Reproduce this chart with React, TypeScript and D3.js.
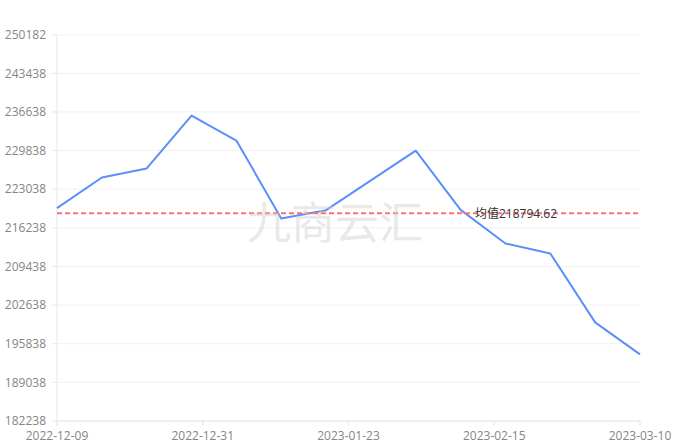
import React from 'react';
import * as d3 from 'd3';

const values: (number | null)[] = [
  219700, 225100, 226700, 236000, 231600, 217900, 219342, null,
  229817.06, 219395, 213487, 211728, 199594, 193967,
];
const tickLabels = ['2022-12-09', '2022-12-31', '2023-01-23', '2023-02-15', '2023-03-10'];
const yMin = 182238;
const yMax = 250182;
const yStep = 6800;
const watermark = '九商云汇';

const W = 677;
const H = 447;
const left = 57;
const right = 640;
const top = 35;
const bottom = 421;
const FONT = '"Open Sans", "Noto Sans CJK SC", sans-serif';

export default function App() {
  const x = d3.scaleLinear().domain([0, values.length - 1]).range([left, right]);
  const y = d3.scaleLinear().domain([yMin, yMax]).range([bottom, top]);

  const yTicks: number[] = [];
  for (let v = yMin; v < yMax; v += yStep) yTicks.push(v);
  yTicks.push(yMax);

  const pts = values
    .map((v, i) => (v == null ? null : [i, v] as [number, number]))
    .filter((p): p is [number, number] => p !== null);
  const line = d3
    .line<[number, number]>()
    .x((d) => x(d[0]))
    .y((d) => y(d[1]));

  const valid = values.filter((v): v is number => v != null);
  const mean = d3.mean(valid) as number;
  const nT = tickLabels.length - 1;

  return (
    <svg
      width={W}
      height={H}
      style={{ position: 'absolute', left: 0, top: 0, background: '#fff' }}
      fontFamily={FONT}
    >
      {/* grid */}
      {yTicks.map((t) => (
        <line key={'g' + t} x1={left} x2={right} y1={y(t)} y2={y(t)} stroke="#f1f1f1" strokeWidth={1} />
      ))}
      {/* y axis */}
      <line x1={left} x2={left} y1={top} y2={bottom + 5} stroke="#e6e6e6" strokeWidth={1} />
      {yTicks.map((t) => (
        <g key={'y' + t}>
          <line x1={left - 5} x2={left} y1={y(t)} y2={y(t)} stroke="#e6e6e6" />
          <text x={left - 11} y={y(t)} dy="0.35em" textAnchor="end" fontSize={12} fill="#858585">
            {t}
          </text>
        </g>
      ))}
      {/* x axis */}
      <line x1={left} x2={right} y1={bottom} y2={bottom} stroke="#e6e6e6" strokeWidth={1} />
      {tickLabels.map((lab, i) => {
        const xp = x((i * (values.length - 1)) / nT);
        return (
          <g key={lab}>
            <line x1={xp} x2={xp} y1={bottom} y2={bottom + 5} stroke="#e6e6e6" />
            <text x={xp} y={439.5} textAnchor="middle" fontSize={12} fill="#858585">
              {lab}
            </text>
          </g>
        );
      })}
      {/* series */}
      <path d={line(pts) || ''} fill="none" stroke="#5b8ff9" strokeWidth={2} strokeLinejoin="round" />
      {/* mean line */}
      <line
        x1={left}
        x2={right}
        y1={y(mean)}
        y2={y(mean)}
        stroke="#ff7070"
        strokeWidth={2}
        strokeDasharray="5,3"
      />
      <text x={516} y={y(mean)} dy="0.35em" textAnchor="middle" fontSize={12} fill="#333">
        {'均值' + mean.toFixed(2)}
      </text>
      {/* watermark */}
      <text
        x={335}
        y={224}
        dy="0.35em"
        textAnchor="middle"
        fontSize={44}
        fill="rgb(205,205,205)"
        fillOpacity={0.45}
        fontFamily='"Noto Sans CJK SC", sans-serif'
      >
        {watermark}
      </text>
    </svg>
  );
}
